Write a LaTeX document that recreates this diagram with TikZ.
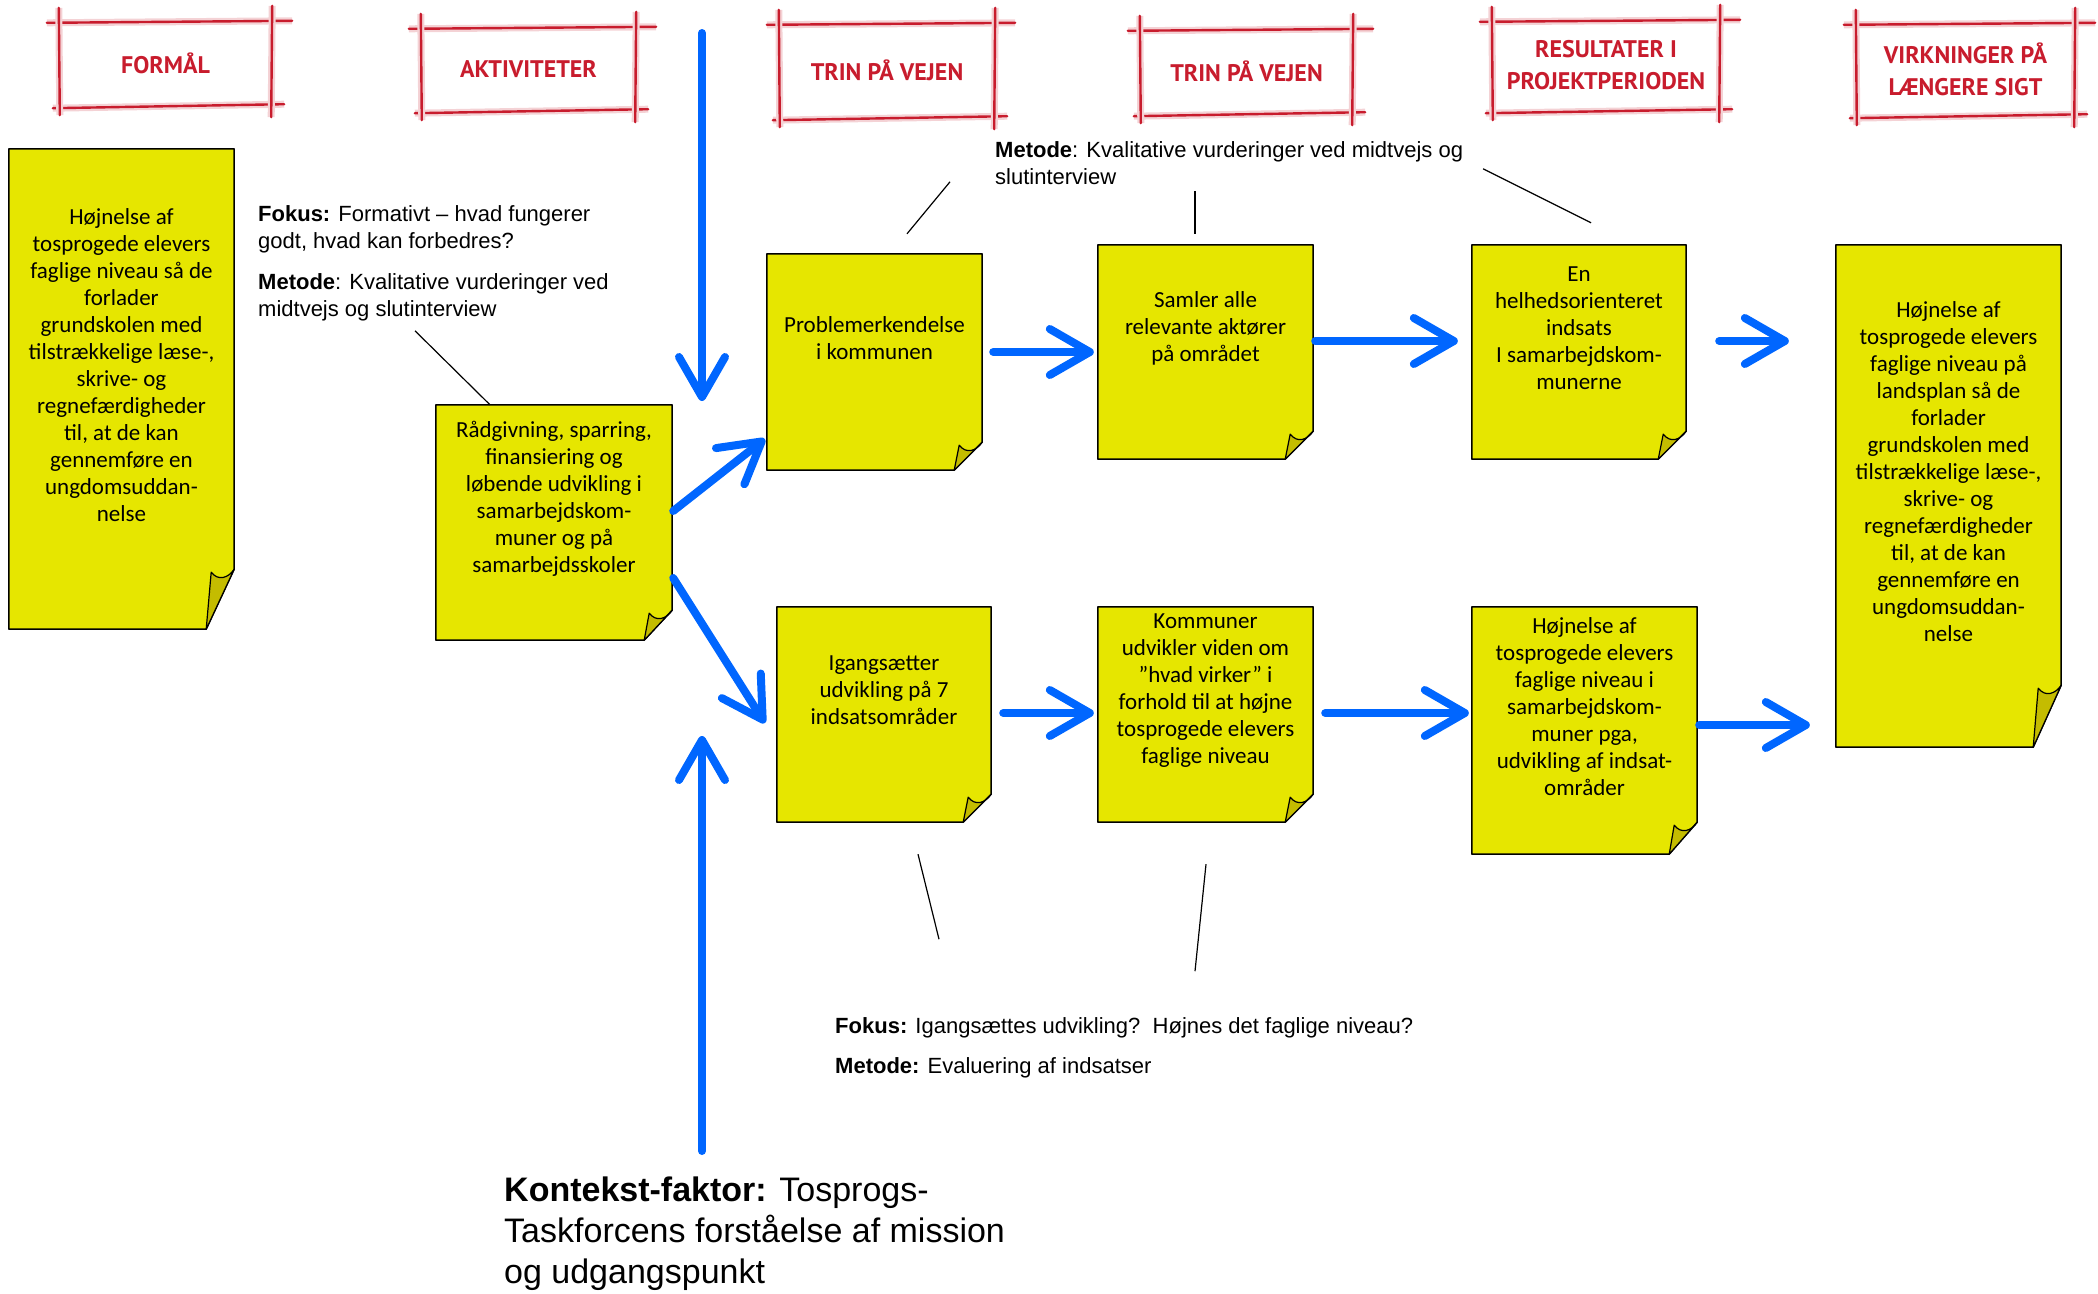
\documentclass[tikz,border=0pt]{standalone}
\usepackage{fontspec}
\setmainfont{Liberation Sans}
\newfontfamily\notefont{Carlito}
\newfontfamily\headfont{PT Sans}
\usetikzlibrary{calc,arrows.meta}
\definecolor{noteyellow}{RGB}{230,230,0}
\definecolor{notefold}{RGB}{196,188,0}
\definecolor{flowblue}{RGB}{0,102,255}
\definecolor{sketchred}{RGB}{200,28,45}

\begin{document}
\begin{tikzpicture}[x=1pt,y=-1pt,
note/.style={inner sep=0pt},
notetext/.style={font=\notefont\fontsize{23}{27}\selectfont, align=center, inner sep=0pt},
notebody/.style={draw=black, line width=1.5pt, fill=noteyellow, line join=round},
foldpart/.style={draw=black, line width=1.2pt, fill=notefold, line join=round},
header/.style={font=\headfont\bfseries\fontsize{24}{32}\selectfont, text=sketchred, align=center, inner sep=0pt},
sketch/.style={draw=sketchred, line width=2.4pt, line cap=round,
  preaction={draw=sketchred!20, line width=7pt}},
flow/.style={draw=flowblue, line width=8pt, line cap=round,
  -{Straight Barb[length=40pt,width=46pt,round]}},
callout/.style={draw=black, line width=1.2pt},
remark/.style={font=\fontsize{22}{27}\selectfont, align=left, anchor=north west, inner sep=0pt}
]
\useasboundingbox (0,0) rectangle (2098,1293);

% headers
\node[header, minimum width=213pt, minimum height=83pt] (hgoal) at (165.5,63.5) {FORMÅL};
\node[header, minimum width=215pt, minimum height=82pt] (hact) at (528.5,69) {AKTIVITETER};
\node[header, minimum width=216pt, minimum height=93pt] (hstepa) at (887,70.5) {TRIN PÅ VEJEN};
\node[header, minimum width=213pt, minimum height=83pt] (hstepb) at (1246.5,71.5) {TRIN PÅ VEJEN};
\node[header, minimum width=228pt, minimum height=89pt] (hres) at (1606,65.5) {RESULTATER I\\PROJEKTPERIODEN};
\node[header, minimum width=219pt, minimum height=91pt] (himp) at (1965.5,69.5) {VIRKNINGER PÅ\\LÆNGERE SIGT};
\foreach \h in {hgoal,hact,hstepa,hstepb,hres,himp}{
  \draw[sketch] ([xshift=-12pt,yshift=-1pt]\h.north west) -- ([xshift=20pt,yshift=1pt]\h.north east);
  \draw[sketch] ([xshift=-6pt,yshift=-3pt]\h.south west) -- ([xshift=12pt,yshift=1pt]\h.south east);
  \draw[sketch] ([yshift=14pt]\h.north west) -- ([xshift=1pt,yshift=-10pt]\h.south west);
  \draw[sketch] ([yshift=16pt]\h.north east) -- ([xshift=-1pt,yshift=-12pt]\h.south east);
}

% notes
\node[note, minimum width=225pt, minimum height=480pt] (goal) at (121.5,389) {};
\node[note, minimum width=236pt, minimum height=235pt] (act) at (554,522.5) {};
\node[note, minimum width=215pt, minimum height=216pt] (prob) at (874.5,362) {};
\node[note, minimum width=215pt, minimum height=214pt] (samler) at (1205.5,352) {};
\node[note, minimum width=214pt, minimum height=214pt] (helhed) at (1579,352) {};
\node[note, minimum width=225pt, minimum height=502pt] (impact) at (1948.5,496) {};
\node[note, minimum width=214pt, minimum height=215pt] (igang) at (884,714.5) {};
\node[note, minimum width=215pt, minimum height=215pt] (komm) at (1205.5,714.5) {};
\node[note, minimum width=225pt, minimum height=247pt] (result) at (1584.5,730.5) {};
\foreach \n/\f in {goal/60,act/30,prob/28,samler/28,helhed/28,impact/62,igang/28,komm/28,result/32}{
  \coordinate (fa) at ($(\n.south east)+(0,-\f)$);
  \coordinate (fb) at ($(\n.south east)+(-28,0)$);
  \coordinate (fc) at ($(fa)+(-23,3)$);
  \draw[notebody] (\n.north west) -- (\n.north east) -- (fa) -- (fb) -- (\n.south west) -- cycle;
  \draw[foldpart] (fa) .. controls ($(fa)+(-6,9)$) and ($(fc)+(7,9)$) .. (fc) -- (fb) -- cycle;
}

\node[notetext] (goaltxt) at ([yshift=24pt]goal.center) {Højnelse af\\tosprogede elevers\\faglige niveau så de\\forlader\\grundskolen med\\tilstrækkelige læse-,\\skrive- og\\regnefærdigheder\\til, at de kan\\gennemføre en\\ungdomsuddan-\\nelse};
\node[notetext] (acttxt) at ([yshift=24pt]act.center) {Rådgivning, sparring,\\finansiering og\\løbende udvikling i\\samarbejdskom-\\muner og på\\samarbejdsskoler};
\node[notetext] (probtxt) at ([yshift=24pt]prob.center) {Problemerkendelse\\i kommunen};
\node[notetext] (samlertxt) at ([yshift=24pt]samler.center) {Samler alle\\relevante aktører\\på området};
\node[notetext] (helhedtxt) at ([yshift=24pt]helhed.center) {En\\helhedsorienteret\\indsats\\I samarbejdskom-\\munerne};
\node[notetext] (impacttxt) at ([yshift=24pt]impact.center) {Højnelse af\\tosprogede elevers\\faglige niveau på\\landsplan så de\\forlader\\grundskolen med\\tilstrækkelige læse-,\\skrive- og\\regnefærdigheder\\til, at de kan\\gennemføre en\\ungdomsuddan-\\nelse};
\node[notetext] (igangtxt) at ([yshift=24pt]igang.center) {Igangsætter\\udvikling på 7\\indsatsområder};
\node[notetext] (kommtxt) at ([yshift=24pt]komm.center) {Kommuner\\udvikler viden om\\”hvad virker” i\\forhold til at højne\\tosprogede elevers\\faglige niveau};
\node[notetext] (resulttxt) at ([yshift=24pt]result.center) {Højnelse af\\tosprogede elevers\\faglige niveau i\\samarbejdskom-\\muner pga,\\udvikling af indsat-\\områder};

% remarks
\node[remark] (fokusa) at (258,205) {\textbf{Fokus:} Formativt – hvad fungerer\\godt, hvad kan forbedres?\\[14pt]\textbf{Metode}: Kvalitative vurderinger ved\\midtvejs og slutinterview};
\node[remark] (metodeb) at (995,141) {\textbf{Metode}: Kvalitative vurderinger ved midtvejs og\\slutinterview};
\node[remark] (fokusc) at (835,1017) {\textbf{Fokus:} Igangsættes udvikling?\ \ Højnes det faglige niveau?\\[13pt]\textbf{Metode:} Evaluering af indsatser};
\node[remark, font=\fontsize{34}{41}\selectfont] (kontekst) at (504,1177) {\textbf{Kontekst-faktor:} Tosprogs-\\Taskforcens forståelse af mission\\og udgangspunkt};

\draw[callout] ($(act.north)+(-64,0)$) -- ++(-75,-74);
\draw[callout] ($(prob.north)+(32.5,-20)$) -- ++(43,-52);
\draw[callout] ($(samler.north)+(-10.5,-11)$) -- ++(0,-43);
\draw[callout] ($(helhed.north)+(12,-22)$) -- ++(-108,-54);
\draw[callout] ($(igang.south)+(34,32)$) -- ++(21,85);
\draw[callout] ($(komm.south)+(0.5,42)$) -- ++(-11,107);

% arrows
\coordinate (dtop) at (702,33);
\coordinate (dtip) at (702,401);
\coordinate (ubot) at (702,1151);
\coordinate (utip) at (702,736);
\draw[flow] (dtop) -- (dtip);
\draw[flow] (ubot) -- (utip);
\draw[flow] ($(act.east)+(1,-11.5)$) -- ($(prob.west)+(-2,77)$);
\draw[flow] ($(act.east)+(1,55.5)$) -- ($(igang.west)+(-12,8.5)$);
\draw[flow] ($(prob.east)+(11,-10)$) -- ($(samler.west)+(-4,0)$);
\draw[flow] ($(samler.east)+(2,-11)$) -- ($(helhed.west)+(-14,-11)$);
\draw[flow] ($(helhed.east)+(33,-11)$) -- ($(impact.west)+(-47,-155)$);
\draw[flow] ($(igang.east)+(12,-1.5)$) -- ($(komm.west)+(-4,-1.5)$);
\draw[flow] ($(komm.east)+(12,-1.5)$) -- ($(result.west)+(-3,-17.5)$);
\draw[flow] ($(result.east)+(2,-5.5)$) -- ($(impact.west)+(-26,229)$);
\end{tikzpicture}
\end{document}
